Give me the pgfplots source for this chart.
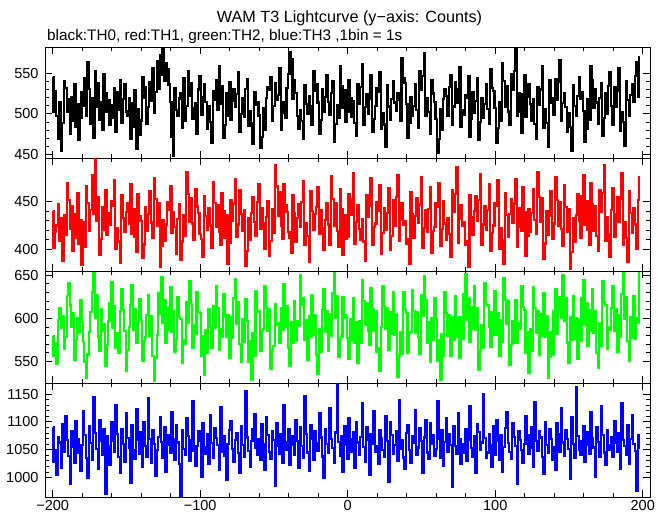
\documentclass[border=0pt]{standalone}
\usepackage{pgfplots}
\pgfplotsset{compat=1.18}
\usepackage{pgfplotstable}
\usepackage{fontspec}
\setmainfont{Liberation Sans}

\pgfplotstableread{
y
545
502
528
497
470
515
455
489
540
532
503
518
476
521
492
536
484
512
468
495
527
510
544
498
563
531
488
520
471
552
509
538
493
515
480
549
525
502
517
486
511
495
532
478
527
505
542
489
518
536
503
497
520
470
513
484
529
457
506
474
492
545
520
533
488
508
539
516
556
501
527
565
531
572
548
580
540
562
555
536
515
472
448
532
505
497
519
526
483
544
491
510
553
522
538
494
507
513
476
530
546
499
521
537
515
482
509
490
464
528
517
541
505
559
512
534
471
486
525
498
539
493
516
530
508
524
551
478
500
519
496
531
543
485
504
489
463
527
511
515
498
458
472
507
481
520
533
529
545
492
510
538
517
523
556
480
501
514
495
532
549
576
567
518
541
526
497
482
505
491
469
535
512
500
522
509
487
553
528
537
514
476
493
530
502
521
547
515
499
526
540
466
488
511
495
558
534
507
529
490
503
542
520
496
516
489
473
537
512
533
561
486
508
524
500
519
547
478
494
510
532
527
551
482
501
487
459
535
509
493
518
540
514
504
526
517
491
569
544
538
512
471
489
521
498
510
536
505
483
552
529
546
574
497
520
502
475
541
525
515
494
452
469
506
480
518
531
522
497
533
548
487
509
539
513
530
557
484
505
499
523
520
546
472
494
527
501
516
544
468
490
519
495
512
537
506
488
555
532
528
507
464
483
515
491
562
540
509
534
503
486
549
529
553
579
498
525
502
477
524
547
496
521
536
512
492
518
488
470
533
511
530
558
483
506
489
460
541
514
520
499
543
517
539
566
491
513
526
508
478
501
484
455
535
510
497
522
545
519
527
504
466
482
518
493
559
542
507
531
514
488
520
538
473
495
526
500
534
551
510
487
533
509
528
556
479
502
490
461
540
517
498
523
537
515
546
563
521
570
}\tblack

\pgfplotstableread{
y
440
401
418
425
447
409
433
388
436
415
470
452
421
445
398
437
412
459
406
431
383
428
402
466
449
419
441
478
437
496
430
455
394
411
444
420
462
415
438
426
451
446
473
400
422
408
386
457
433
418
439
449
427
468
416
442
413
397
458
435
430
391
405
444
419
437
461
428
412
475
453
424
448
381
403
431
409
426
450
441
466
417
439
423
395
432
447
389
408
436
414
481
458
429
454
427
410
463
445
438
416
411
392
456
435
420
443
425
401
471
449
423
446
418
404
459
440
412
436
385
407
452
430
448
474
413
426
462
437
419
441
382
398
433
410
438
455
429
414
450
469
421
443
427
400
434
451
393
409
442
417
489
466
435
460
424
411
468
446
439
418
412
396
457
438
408
433
447
423
450
472
404
427
414
387
461
440
420
437
444
465
416
441
422
399
431
448
426
405
477
453
425
449
419
402
463
442
394
436
411
413
458
436
453
480
406
429
446
421
410
432
408
388
457
434
446
475
404
423
427
450
440
467
395
417
443
420
438
464
399
414
452
425
455
478
409
431
449
426
430
406
411
385
460
437
412
435
454
428
447
476
401
422
441
418
442
465
396
419
423
448
444
470
403
421
451
427
410
433
416
392
462
439
458
486
407
432
446
424
429
405
408
381
457
434
415
440
456
430
452
479
404
426
445
420
441
468
398
417
425
449
446
473
400
422
410
384
459
436
413
437
453
428
448
474
402
423
443
419
465
439
393
414
442
418
438
463
431
416
481
455
429
454
390
406
440
415
435
461
411
427
476
452
425
450
421
403
467
444
418
442
379
397
433
408
436
458
430
412
456
478
426
451
420
404
470
447
419
445
414
398
462
439
459
489
409
434
416
392
441
464
413
437
455
429
453
480
405
428
412
387
461
438
417
443
426
400
452
476
}\tred

\pgfplotstableread{
y
580
556
571
547
598
612
589
603
565
578
626
641
615
590
606
552
575
600
583
621
596
573
549
531
558
584
607
630
652
601
627
579
562
611
586
593
545
569
597
618
642
589
614
566
583
560
608
634
610
585
539
563
590
616
639
587
611
572
596
622
598
551
574
578
604
627
580
603
556
527
554
581
629
605
648
595
621
571
587
613
636
584
609
561
576
625
602
599
548
575
570
619
595
643
617
566
592
582
631
607
606
557
580
534
586
560
611
590
566
614
589
638
612
563
587
578
628
603
579
604
554
601
577
624
646
594
619
570
549
599
573
622
597
550
574
529
583
557
632
608
609
562
585
588
637
613
586
611
541
563
568
617
593
595
571
612
587
640
590
614
566
545
596
572
620
574
597
591
650
616
623
575
598
552
603
578
627
581
604
558
535
587
561
610
634
584
608
562
605
580
629
653
600
626
555
576
579
625
604
601
577
553
599
574
623
572
596
548
597
571
645
620
593
618
586
569
635
611
585
609
561
565
539
590
638
614
588
612
564
607
582
631
581
605
532
557
584
559
630
610
606
560
583
584
633
609
583
607
578
559
627
603
649
621
572
596
549
600
575
624
599
551
575
529
582
556
630
606
580
604
557
601
575
626
578
602
554
602
576
628
651
598
624
573
613
588
638
587
612
540
563
592
566
641
617
615
590
567
607
581
632
581
606
557
598
573
647
622
594
620
546
569
597
572
621
571
595
588
637
613
610
560
584
537
588
562
636
612
583
609
558
605
580
629
579
603
531
555
584
558
609
634
582
608
625
600
650
597
623
572
548
601
575
626
576
600
553
599
574
624
645
593
618
568
610
585
634
583
608
560
542
594
568
643
619
616
565
590
587
612
637
586
611
561
604
579
628
652
599
625
574
551
602
577
626
576
600
595
653
}\tgreen

\pgfplotstableread{
y
1090
1028
1050
1005
1072
1063
1018
1096
1047
1110
1068
1039
988
1083
1055
1026
1101
1070
1044
1012
1058
1120
1076
1035
1000
1093
1062
1031
1145
1080
1052
1015
1104
1066
1041
1088
970
1074
1057
1022
1099
1065
1046
1130
1078
1037
1008
1087
1060
1029
1115
1071
1053
990
1095
1049
1033
1123
1067
1042
1081
1019
1100
1056
1038
1142
1069
1027
1085
1061
1003
1050
1073
1108
1064
1036
1091
1011
1077
1059
1045
1118
1070
1032
1094
1063
1024
967
1086
1052
1040
1106
1075
1030
1068
1137
1048
1021
1057
1083
1066
1001
1097
1054
1043
1079
1025
1112
1062
1035
1089
1071
1058
1014
1126
1047
1074
1039
996
1060
1085
1102
1051
1028
1067
1080
1044
1009
1093
1059
1037
1155
1072
1048
1020
1065
1087
1114
1053
1041
1070
1032
1096
1061
1013
1109
1076
1046
1034
1084
1068
985
1098
1056
1042
1078
1026
1131
1063
1050
1088
1023
1074
1059
1040
1103
1066
1017
1091
1057
1036
1147
1079
1045
1012
1095
1069
1031
1083
1062
1048
1116
1072
1038
999
1087
1060
1044
1125
1070
1053
1027
1081
1168
1064
1039
1075
1010
1092
1058
1034
1107
1069
1046
1082
1018
1099
1063
1041
1073
1133
1055
1029
1090
1067
1004
1078
1061
1119
1047
1057
1024
1086
1071
1050
1037
1111
1065
993
1100
1077
1043
1059
1084
1030
1140
1052
1068
1036
1015
1080
1094
1049
1026
1075
1062
1121
1040
1054
1089
1066
1008
1072
1103
1045
1033
1097
1060
1076
1039
1051
1138
1069
1035
1085
1021
1064
1106
1047
1079
1058
983
1092
1056
1043
1115
1070
1025
1061
1044
1087
1030
1067
1128
1053
1038
1074
1009
1096
1082
1049
1063
1150
1071
1036
1045
1078
1059
1019
1093
1040
1104
1066
1032
1077
1011
1055
1089
1118
1062
1046
1034
1098
1073
1057
988
1084
1068
1050
1027
1061
1110
1076
1042
1053
1091
1020
1136
1065
1048
1083
1072
1037
1006
1100
1058
1044
1088
1069
1031
1055
1014
1097
1079
1046
1125
1063
1039
1086
1070
1052
997
1108
1060
1035
1163
1074
1049
1041
1066
1093
1028
1081
1058
1043
1117
1071
1054
1002
1090
1064
1037
1129
1076
1045
1022
1085
1059
1050
1073
1038
1101
1062
1047
1080
1016
1134
1068
1056
1040
1094
1025
1070
1112
1061
1048
976
1077
1053
}\tblue

\pgfplotsset{
  panel/.style={
    scale only axis, width=605pt, anchor=south west,
    xmin=-205.2, xmax=204.9,
    axis line style={line width=0.9pt},
    every tick/.style={black, line width=0.9pt},
    tick align=inside, tick pos=both,
    xticklabel pos=lower, yticklabel pos=left,
    xtick={-200,-100,0,100,200}, minor x tick num=4,
    minor y tick num=4,
    major tick length=7pt, minor tick length=4pt,
    xticklabels={},
    ticklabel style={font=\fontsize{14.5}{16}\selectfont},
    yticklabel style={xshift=-3pt},
    /pgf/number format/assume math mode=true,
    /pgf/number format/1000 sep={},
    clip=true,
  },
  lc/.style={const plot mark mid, line width=2.2pt, #1},
}

\begin{document}
\begin{tikzpicture}
\useasboundingbox (0,0) rectangle (669pt,515pt);

\begin{axis}[panel, at={(45pt,357pt)}, height=111pt, ymin=446, ymax=582, ytick={450,500,550}]
\addplot[lc=black] table[x expr=\coordindex-200, y=y] {\tblack};
\end{axis}

\begin{axis}[panel, at={(45pt,244pt)}, height=113pt, ymin=377, ymax=496, ytick={400,450}]
\addplot[lc=red] table[x expr=\coordindex-200, y=y] {\tred};
\end{axis}

\begin{axis}[panel, at={(45pt,132pt)}, height=112pt, ymin=525, ymax=655, ytick={550,600,650}]
\addplot[lc={green}] table[x expr=\coordindex-200, y=y] {\tgreen};
\end{axis}

\begin{axis}[panel, at={(45pt,18pt)}, height=114pt, ymin=965, ymax=1170, ytick={1000,1050,1100,1150},
  xticklabels={−200,−100,0,100,200}]
\addplot[lc=blue] table[x expr=\coordindex-200, y=y] {\tblue};
\end{axis}

\node[anchor=base, font=\fontsize{16.2}{19}\selectfont] at (349.5pt,492pt) {WAM T3 Lightcurve (y−axis: Counts)};
\node[anchor=base west, inner sep=0pt, font=\fontsize{15.3}{18}\selectfont] at (47pt,474pt) {black:TH0, red:TH1, green:TH2, blue:TH3 ,1bin = 1s};
\end{tikzpicture}
\end{document}
